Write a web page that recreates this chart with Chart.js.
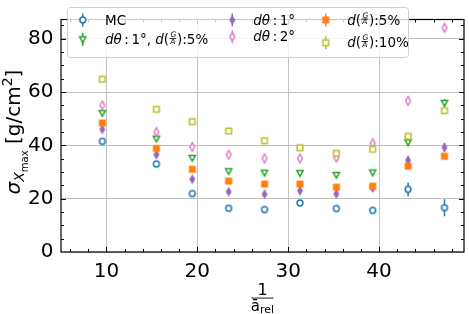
<!DOCTYPE html>
<html>
<head>
<meta charset="utf-8">
<script src="https://cdn.jsdelivr.net/npm/chart.js@4.4.1/dist/chart.umd.min.js"></script>
<style>
    html, body { margin: 0; padding: 0; background: #ffffff; }
    #wrap { width: 469px; height: 314px; }
</style>
</head>
<body>
<div id="wrap"><canvas id="myChart" width="469" height="314"></canvas></div>
<script>
// values
const xPos = [9.55, 15.5, 19.45, 23.45, 27.4, 31.3, 35.3, 39.3, 43.2, 47.2];
const mcVals = [41.5, 33.0, 21.9, 16.4, 15.9, 18.4, 16.3, 15.6, 23.5, 16.6];
const mcErr = [0.6, 0.6, 0.5, 0.5, 0.5, 0.5, 0.5, 0.6, 2.6, 3.2];
const theta1Ga5Vals = [52.1, 42.5, 35.3, 30.3, 29.7, 29.6, 28.9, 29.8, 41.1, 55.9];
const theta1Ga5Err = [0.6, 0.6, 0.5, 0.5, 0.5, 0.5, 0.5, 0.6, 1.2, 1.4];
const theta1Vals = [46.0, 36.5, 27.3, 22.6, 21.7, 23.0, 21.8, 24.0, 34.4, 39.2];
const theta1Err = [0.6, 0.6, 0.5, 0.5, 0.5, 0.5, 0.5, 0.6, 1.2, 1.6];
const theta2Vals = [55.0, 45.0, 39.4, 36.5, 35.1, 35.1, 35.4, 40.8, 56.7, 84.1];
const theta2Err = [0.6, 0.6, 0.5, 0.5, 0.5, 0.5, 0.5, 0.6, 1.2, 1.4];
const ga5Vals = [48.4, 38.8, 31.0, 26.6, 25.5, 25.5, 24.3, 24.7, 32.2, 35.9];
const ga5Err = [0.6, 0.6, 0.5, 0.5, 0.5, 0.5, 0.5, 0.6, 1.0, 1.0];
const ga10Vals = [64.8, 53.5, 48.9, 45.4, 41.7, 39.1, 37.0, 38.5, 43.4, 53.0];
const ga10Err = [0.6, 0.6, 0.5, 0.5, 0.5, 0.5, 0.5, 0.6, 1.0, 1.2];
const xTicks = [10, 20, 30, 40];
const yTicks = [0, 20, 40, 60, 80];

// legend labels, as little mathtext runs
const lblMC = [{ t: 'MC' }];
const lblTheta1Ga5 = [{ t: 'd', it: 1 }, { t: 'θ', it: 1 }, { t: ':', gap: 2.5 }, { t: '1°, ', gap: 2.5 },
    { t: 'd', it: 1 }, { t: '(' }, { frac: ['G', 'A'] }, { t: '):5%' }];
const lblTheta1 = [{ t: 'd', it: 1 }, { t: 'θ', it: 1 }, { t: ':', gap: 2.5 }, { t: '1°', gap: 2.5 }];
const lblTheta2 = [{ t: 'd', it: 1 }, { t: 'θ', it: 1 }, { t: ':', gap: 2.5 }, { t: '2°', gap: 2.5 }];
const lblGa5 = [{ t: 'd', it: 1 }, { t: '(' }, { frac: ['G', 'A'] }, { t: '):5%' }];
const lblGa10 = [{ t: 'd', it: 1 }, { t: '(' }, { frac: ['G', 'A'] }, { t: '):10%' }];

const FONT = '"DejaVu Sans", sans-serif';

function makeMarker(kind, color) {
    const c = document.createElement('canvas');
    c.width = 16; c.height = 16;
    const g = c.getContext('2d');
    const m = 8;
    g.strokeStyle = color;
    g.fillStyle = color;
    g.lineWidth = 1.5;
    g.beginPath();
    if (kind === 'circle') {
        g.arc(m, m, 2.9, 0, Math.PI * 2);
    } else if (kind === 'tridown') {
        g.moveTo(m - 3.1, m - 2.4);
        g.lineTo(m + 3.1, m - 2.4);
        g.lineTo(m, m + 3.1);
        g.closePath();
    } else if (kind === 'square' || kind === 'squarefill') {
        const h = kind === 'square' ? 2.8 : 3.5;
        g.rect(m - h, m - h, 2 * h, 2 * h);
    } else {
        const w = kind === 'diafill' ? 3.0 : 2.4;
        const h = kind === 'diafill' ? 5.0 : 4.3;
        g.moveTo(m, m - h);
        g.lineTo(m + w, m);
        g.lineTo(m, m + h);
        g.lineTo(m - w, m);
        g.closePath();
    }
    if (kind === 'squarefill' || kind === 'diafill') {
        g.fill();
    } else {
        g.fillStyle = '#ffffff';
        g.fill();
        g.stroke();
    }
    return c;
}

// draws runs of text from (x, baseline y), returns end x
function drawMath(ctx, x, y, runs, base, measureOnly) {
    for (const r of runs) {
        if (r.gap) x += r.gap;
        if (r.frac) {
            const s = base * 0.56;
            ctx.font = 'italic ' + s + 'px ' + FONT;
            const w = Math.max(ctx.measureText(r.frac[0]).width, ctx.measureText(r.frac[1]).width) + 1.5;
            if (!measureOnly) {
                ctx.textAlign = 'center';
                ctx.fillText(r.frac[0], x + w / 2 + 0.5, y - base * 0.5);
                ctx.fillText(r.frac[1], x + w / 2, y - base * 0.02);
                ctx.textAlign = 'left';
                ctx.fillRect(x + 0.3, y - base * 0.43, w - 0.6, 0.8);
            }
            x += w + 0.5;
            continue;
        }
        const sz = r.sz || base;
        ctx.font = (r.it ? 'italic ' : '') + sz + 'px ' + FONT;
        if (!measureOnly) ctx.fillText(r.t, x, y + (r.dy || 0));
        x += ctx.measureText(r.t).width;
    }
    return x;
}

const mcMarker = makeMarker('circle', '#1f77b4');
const triMarker = makeMarker('tridown', '#2ca02c');
const diaFillMarker = makeMarker('diafill', '#9467bd');
const diaMarker = makeMarker('dia', '#e377c2');
const sqFillMarker = makeMarker('squarefill', '#ff7f0e');
const sqMarker = makeMarker('square', '#bcbd22');

const legendItems = [
    { marker: mcMarker, color: '#1f77b4', runs: lblMC, mx: 82.7, my: 20, tx: 105, ty: 25 },
    { marker: triMarker, color: '#2ca02c', runs: lblTheta1Ga5, mx: 82.7, my: 39.3, tx: 105, ty: 44 },
    { marker: diaFillMarker, color: '#9467bd', runs: lblTheta1, mx: 232.3, my: 20, tx: 253.3, ty: 25 },
    { marker: diaMarker, color: '#e377c2', runs: lblTheta2, mx: 232.3, my: 36.7, tx: 253.3, ty: 41 },
    { marker: sqFillMarker, color: '#ff7f0e', runs: lblGa5, mx: 325.7, my: 20, tx: 347.3, ty: 24.5 },
    { marker: sqMarker, color: '#bcbd22', runs: lblGa10, mx: 325.7, my: 42.7, tx: 347.3, ty: 47 },
];

function series(vals) {
    return vals.map((v, i) => ({ x: xPos[i], y: v }));
}

const decorPlugin = {
    id: 'decor',
    beforeDatasetsDraw(chart) {
        const ctx = chart.ctx;
        const xs = chart.scales.x, ys = chart.scales.y;
        ctx.save();
        ctx.lineWidth = 1.5;
        chart.data.datasets.forEach(ds => {
            ctx.strokeStyle = ds.borderColor;
            ds.data.forEach((p, j) => {
                const e = ds.errs[j];
                const px = xs.getPixelForValue(p.x);
                ctx.beginPath();
                ctx.moveTo(px, ys.getPixelForValue(p.y - e));
                ctx.lineTo(px, ys.getPixelForValue(p.y + e));
                ctx.stroke();
            });
        });
        ctx.restore();
    },
    afterDraw(chart) {
        const ctx = chart.ctx;
        const a = chart.chartArea;
        const xs = chart.scales.x, ys = chart.scales.y;
        ctx.save();

        // inward ticks on all four sides
        ctx.strokeStyle = '#000000';
        ctx.lineWidth = 1;
        ctx.beginPath();
        for (let v = 6; v <= 48; v += 2) {
            const px = Math.round(xs.getPixelForValue(v)) + 0.5;
            const len = xTicks.includes(v) ? 5 : 3;
            ctx.moveTo(px, a.bottom); ctx.lineTo(px, a.bottom - len);
            ctx.moveTo(px, a.top); ctx.lineTo(px, a.top + len);
        }
        for (let v = 5; v <= 85; v += 5) {
            const py = Math.round(ys.getPixelForValue(v)) + 0.5;
            const len = yTicks.includes(v) ? 5 : 3;
            ctx.moveTo(a.left, py); ctx.lineTo(a.left + len, py);
            ctx.moveTo(a.right, py); ctx.lineTo(a.right - len, py);
        }
        ctx.stroke();

        // frame
        ctx.lineWidth = 1.2;
        ctx.strokeRect(a.left, a.top, a.right - a.left, a.bottom - a.top);

        // legend box
        ctx.fillStyle = 'rgba(255,255,255,0.8)';
        ctx.strokeStyle = '#d0d0d0';
        ctx.lineWidth = 1;
        ctx.beginPath();
        ctx.roundRect(67.5, 7.5, 341, 50, 3);
        ctx.fill();
        ctx.stroke();

        ctx.fillStyle = '#000000';
        ctx.textBaseline = 'alphabetic';
        ctx.textAlign = 'left';
        legendItems.forEach(it => {
            ctx.strokeStyle = it.color;
            ctx.lineWidth = 1.5;
            ctx.beginPath();
            ctx.moveTo(it.mx, it.my - 6.5);
            ctx.lineTo(it.mx, it.my + 6.5);
            ctx.stroke();
            ctx.drawImage(it.marker, it.mx - 8, it.my - 8);
            ctx.fillStyle = '#000000';
            drawMath(ctx, it.tx, it.ty, it.runs, 13.5);
        });

        // y axis title
        const yRuns = [{ t: 'σ', it: 1 }, { t: 'X', it: 1, sz: 14, dy: 4 }, { t: 'max', sz: 10, dy: 7.5 },
            { t: ' [g/cm' }, { t: '2', sz: 14, dy: -8 }, { t: ']' }];
        ctx.translate(20, 132);
        ctx.rotate(-Math.PI / 2);
        const yw = drawMath(ctx, 0, 0, yRuns, 20, true);
        drawMath(ctx, -yw / 2, 0, yRuns, 20);
        ctx.setTransform(1, 0, 0, 1, 0, 0);

        // x axis title: 1 over a-bar rel
        const cx = 262.5;
        ctx.font = '16px ' + FONT;
        ctx.textAlign = 'center';
        ctx.fillText('1', cx, 295);
        ctx.fillRect(cx - 11, 297.6, 22, 0.9);
        ctx.textAlign = 'left';
        const dRuns = [{ t: 'ā', sz: 15 }, { t: 'rel', sz: 11, dy: 2 }];
        const dw = drawMath(ctx, 0, 0, dRuns, 15, true);
        drawMath(ctx, cx - dw / 2, 311, dRuns, 15);

        ctx.restore();
    }
};

function makeDataset(label, vals, errs, marker, color, order) {
    return {
        label: label,
        data: series(vals),
        errs: errs,
        borderColor: color,
        backgroundColor: color,
        pointStyle: marker,
        pointRadius: 4,
        pointHoverRadius: 4,
        showLine: false,
        order: order,
    };
}

const ctx = document.getElementById('myChart').getContext('2d');
const myChart = new Chart(ctx, {
    type: 'scatter',
    data: {
        datasets: [
            makeDataset('MC', mcVals, mcErr, mcMarker, '#1f77b4', 5),
            makeDataset('dθ:1°, d(G/A):5%', theta1Ga5Vals, theta1Ga5Err, triMarker, '#2ca02c', 4),
            makeDataset('dθ:1°', theta1Vals, theta1Err, diaFillMarker, '#9467bd', 3),
            makeDataset('dθ:2°', theta2Vals, theta2Err, diaMarker, '#e377c2', 2),
            makeDataset('d(G/A):5%', ga5Vals, ga5Err, sqFillMarker, '#ff7f0e', 1),
            makeDataset('d(G/A):10%', ga10Vals, ga10Err, sqMarker, '#bcbd22', 0),
        ]
    },
    options: {
        responsive: false,
        animation: false,
        events: [],
        layout: { padding: { left: 0, right: 1.5, top: 0.5, bottom: 0 } },
        plugins: {
            legend: { display: false },
            tooltip: { enabled: false },
            title: { display: false }
        },
        scales: {
            x: {
                type: 'linear',
                min: 5,
                max: 49.35,
                afterBuildTicks: axis => { axis.ticks = xTicks.map(v => ({ value: v })); },
                afterFit: axis => { axis.height = 62; },
                border: { display: false },
                grid: { color: '#c0c0c0', lineWidth: 1, drawTicks: false },
                ticks: { color: '#000000', padding: 8, maxRotation: 0, font: { family: 'DejaVu Sans', size: 20 } }
            },
            y: {
                type: 'linear',
                min: 0,
                max: 87.2,
                afterBuildTicks: axis => { axis.ticks = yTicks.map(v => ({ value: v })); },
                afterFit: axis => { axis.width = 61; },
                border: { display: false },
                grid: { color: '#c0c0c0', lineWidth: 1, drawTicks: false },
                ticks: { color: '#000000', padding: 7.5, font: { family: 'DejaVu Sans', size: 20 } }
            }
        }
    },
    plugins: [decorPlugin]
});
</script>
</body>
</html>
